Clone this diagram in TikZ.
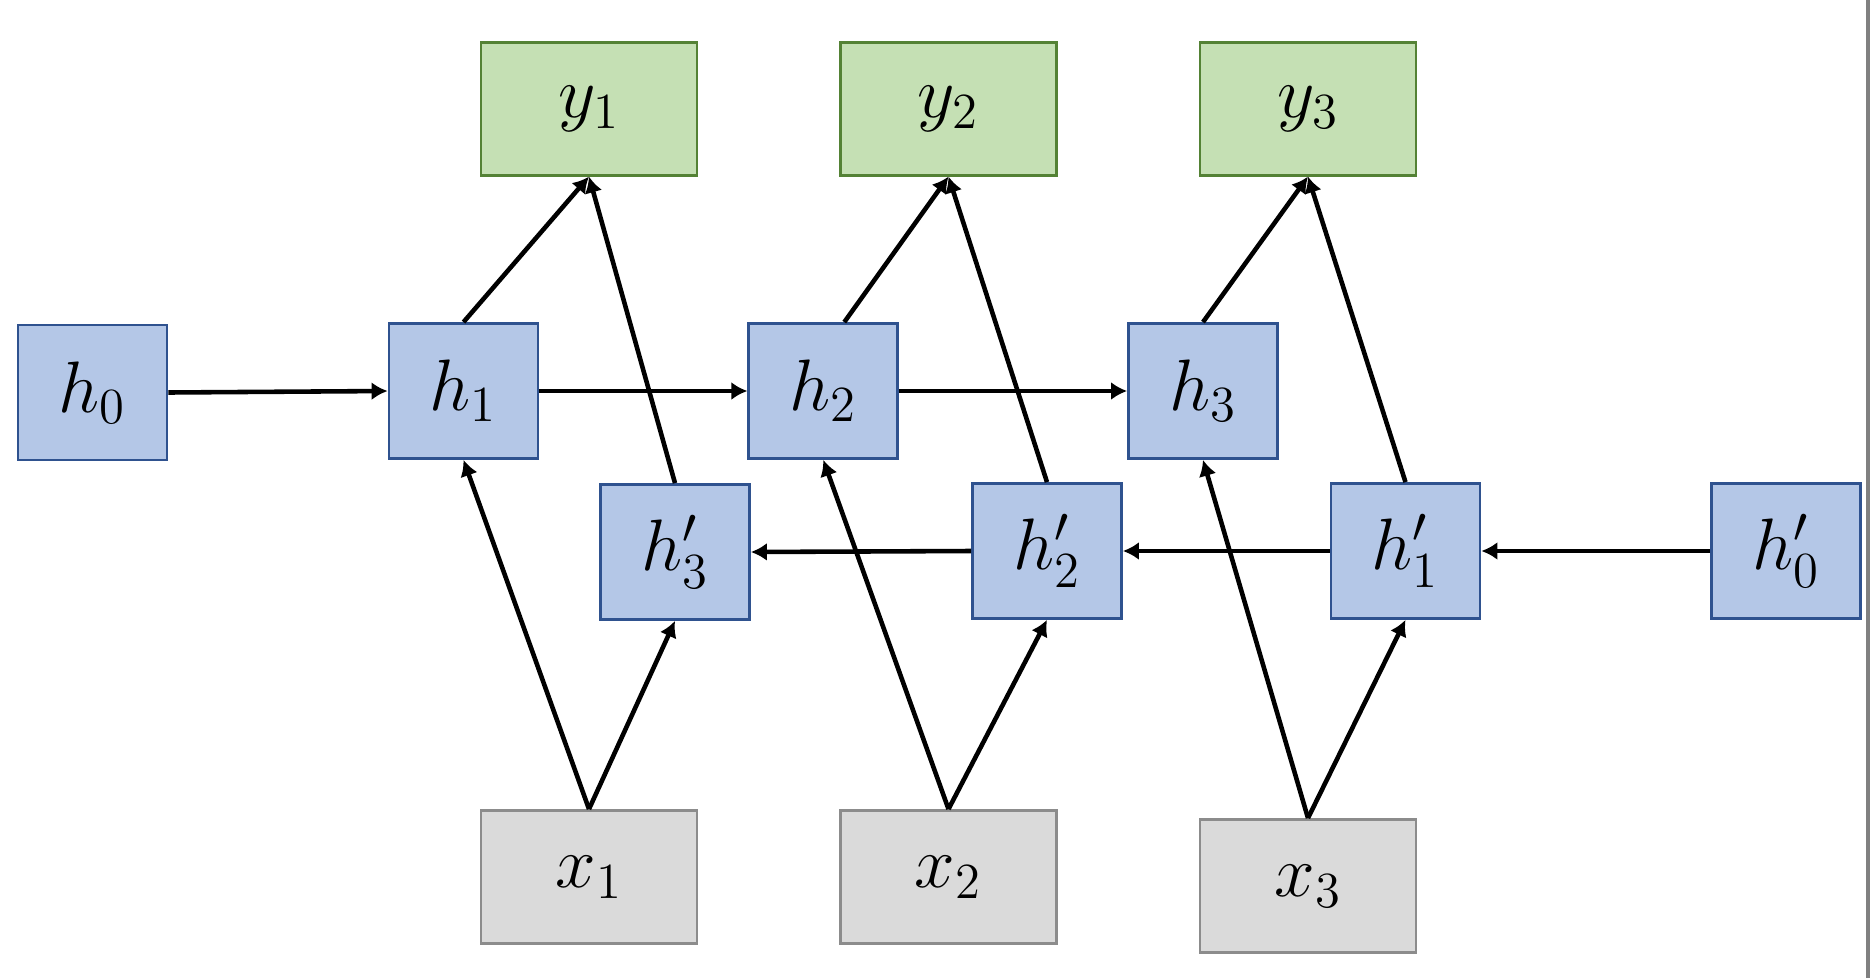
\documentclass[tikz,border=0pt]{standalone}
\usepackage{amsmath,amssymb}
\usepackage{xcolor}
\usepackage{tikz}
\usetikzlibrary{positioning,calc,arrows.meta}

\definecolor{hfill}{HTML}{B4C7E7}
\definecolor{hdraw}{HTML}{2F528F}
\definecolor{yfill}{HTML}{C5E0B4}
\definecolor{ydraw}{HTML}{548235}
\definecolor{xfill}{HTML}{DADADA}
\definecolor{xdraw}{HTML}{8C8C8C}

\tikzset{
    cell/.style={draw, rectangle, line width=0.8pt, inner sep=0pt, font=\fontsize{21}{25}\selectfont},
    hbox/.style={cell, fill=hfill, draw=hdraw, minimum width=1.49cm, minimum height=1.35cm},
    ybox/.style={cell, fill=yfill, draw=ydraw, minimum width=2.16cm, minimum height=1.33cm},
    xbox/.style={cell, fill=xfill, draw=xdraw, minimum width=2.16cm, minimum height=1.33cm},
    link/.style={line width=1.3pt, -{Latex[length=1.6mm,width=1.8mm]}}
}

\begin{document}
\begin{tikzpicture}
    \useasboundingbox (0,0) rectangle (18.72,-9.78);

    \node[ybox] (y1) at (5.89,-1.087) {$y_1$};
    \node[ybox] (y2) at (9.485,-1.087) {$y_2$};
    \node[ybox] (y3) at (13.08,-1.087) {$y_3$};

    \node[hbox] (h0) at (0.925,-3.925) {$h_0$};
    \node[hbox] (h1) at (4.635,-3.91) {$h_1$};
    \node[hbox] (h2) at (8.233,-3.91) {$h_2$};
    \node[hbox] (h3) at (12.03,-3.91) {$h_3$};

    \node[hbox] (hb3) at (6.75,-5.52) {$h'_3$};
    \node[hbox] (hb2) at (10.47,-5.51) {$h'_2$};
    \node[hbox] (hb1) at (14.055,-5.51) {$h'_1$};
    \node[hbox] (hb0) at (17.86,-5.51) {$h'_0$};

    \node[xbox] (x1) at (5.89,-8.77) {$x_1$};
    \node[xbox] (x2) at (9.485,-8.77) {$x_2$};
    \node[xbox] (x3) at (13.08,-8.86) {$x_3$};

    % forward chain
    \draw[link] (h0.east) -- (h1.west);
    \draw[link] (h1.east) -- (h2.west);
    \draw[link] (h2.east) -- (h3.west);

    % backward chain
    \draw[link] (hb0.west) -- (hb1.east);
    \draw[link] (hb1.west) -- (hb2.east);
    \draw[link] (hb2.west) -- (hb3.east);

    % outputs
    \draw[link] (h1.north) -- (y1.south);
    \draw[link] (hb3.north) -- (y1.south);
    \draw[link] ([xshift=0.21cm]h2.north) -- (y2.south);
    \draw[link] (hb2.north) -- (y2.south);
    \draw[link] (h3.north) -- (y3.south);
    \draw[link] (hb1.north) -- (y3.south);

    % inputs
    \draw[link] (x1.north) -- (h1.south);
    \draw[link] (x1.north) -- (hb3.south);
    \draw[link] (x2.north) -- (h2.south);
    \draw[link] (x2.north) -- (hb2.south);
    \draw[link] (x3.north) -- (h3.south);
    \draw[link] (x3.north) -- (hb1.south);

    % window edge
    \draw[gray, line width=1pt] (18.68,0) -- (18.68,-9.78);
\end{tikzpicture}
\end{document}
